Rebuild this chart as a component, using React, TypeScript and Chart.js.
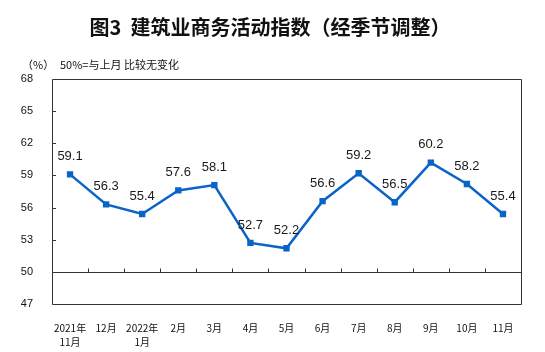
import React, { useEffect, useRef } from "react";
import { Chart, registerables } from "chart.js";

Chart.register(...registerables);

const TITLE = "图3  建筑业商务活动指数（经季节调整）";
const UNIT = "（%）";
const NOTE = "50%=与上月 比较无变化";

const categories: (string | string[])[] = [
  ["2021年", "11月"],
  "12月",
  ["2022年", "1月"],
  "2月",
  "3月",
  "4月",
  "5月",
  "6月",
  "7月",
  "8月",
  "9月",
  "10月",
  "11月",
];

const values: number[] = [59.1, 56.3, 55.4, 57.6, 58.1, 52.7, 52.2, 56.6, 59.2, 56.5, 60.2, 58.2, 55.4];

const Y_MIN = 47;
const Y_MAX = 68;
const Y_STEP = 3;
const BASELINE = 50;

const LINE_COLOR = "#0a64c8";
const AXIS_COLOR = "#333333";

const framePlugin = {
  id: "frame",
  beforeDatasetsDraw(chart: any) {
    const { ctx, chartArea, scales } = chart;
    const { left, right, top, bottom } = chartArea;
    const y = scales.y;
    const x = scales.x;
    ctx.save();
    ctx.strokeStyle = AXIS_COLOR;
    ctx.lineWidth = 1;
    // frame
    ctx.beginPath();
    ctx.rect(Math.round(left) + 0.5, Math.round(top) + 0.5, Math.round(right - left), Math.round(bottom - top));
    ctx.stroke();
    // y ticks inward
    for (let v = Y_MIN + Y_STEP; v < Y_MAX; v += Y_STEP) {
      const py = Math.round(y.getPixelForValue(v)) + 0.5;
      ctx.beginPath();
      ctx.moveTo(left, py);
      ctx.lineTo(left + 4, py);
      ctx.stroke();
    }
    // baseline at 50
    const by = Math.round(y.getPixelForValue(BASELINE)) + 0.5;
    ctx.beginPath();
    ctx.moveTo(left, by);
    ctx.lineTo(right, by);
    ctx.stroke();
    // category boundary ticks on baseline
    for (let i = 0; i < categories.length - 1; i++) {
      const px = Math.round((x.getPixelForValue(i) + x.getPixelForValue(i + 1)) / 2) + 0.5;
      ctx.beginPath();
      ctx.moveTo(px, by);
      ctx.lineTo(px, by - 4);
      ctx.stroke();
    }
    ctx.restore();
  },
  afterDatasetsDraw(chart: any) {
    const { ctx } = chart;
    const meta = chart.getDatasetMeta(0);
    ctx.save();
    ctx.fillStyle = "#1a1a1a";
    ctx.font = '13px "Liberation Sans", Arial, sans-serif';
    ctx.textAlign = "center";
    ctx.textBaseline = "middle";
    meta.data.forEach((pt: any, i: number) => {
      ctx.fillText(values[i].toFixed(1), pt.x, pt.y - 18);
    });
    ctx.restore();
  },
  afterDraw(chart: any) {
    const { ctx } = chart;
    ctx.save();
    ctx.fillStyle = "#111111";
    ctx.textBaseline = "middle";
    ctx.textAlign = "center";
    ctx.font = 'bold 20px "Noto Sans CJK SC", sans-serif';
    ctx.fillText(TITLE, 270, 27);
    ctx.textAlign = "left";
    ctx.font = '11px "Noto Sans CJK SC", sans-serif';
    ctx.fillText(UNIT, 22, 65);
    ctx.fillText(NOTE, 60, 65);
    ctx.restore();
  },
};

export default function App() {
  const ref = useRef<HTMLCanvasElement | null>(null);
  useEffect(() => {
    if (!ref.current) return;
    const chart = new Chart(ref.current, {
      type: "line",
      data: {
        labels: categories,
        datasets: [
          {
            data: values,
            borderColor: LINE_COLOR,
            backgroundColor: LINE_COLOR,
            borderWidth: 2.5,
            pointStyle: "rect",
            pointRadius: 4.5,
            pointBorderWidth: 0,
            tension: 0,
          },
        ],
      },
      options: {
        responsive: false,
        animation: false,
        layout: { padding: { top: 79, right: 24, left: 0, bottom: 0 } },
        plugins: { legend: { display: false }, tooltip: { enabled: false }, title: { display: false } },
        scales: {
          x: {
            type: "category",
            offset: true,
            grid: { display: false },
            border: { display: false },
            ticks: {
              color: "#111111",
              font: { family: '"Noto Sans CJK SC", sans-serif', size: 10, lineHeight: 1.4 },
              padding: 9,
              maxRotation: 0,
              autoSkip: false,
            },
            afterFit: (s: any) => {
              s.height = 48;
            },
          },
          y: {
            min: Y_MIN,
            max: Y_MAX,
            grid: { display: false },
            border: { display: false },
            ticks: {
              stepSize: Y_STEP,
              color: "#111111",
              font: { family: '"Liberation Sans", Arial, sans-serif', size: 11 },
              padding: 11,
            },
            afterFit: (s: any) => {
              s.width = 52;
            },
          },
        },
      },
      plugins: [framePlugin],
    });
    return () => chart.destroy();
  }, []);
  return (
    <div style={{ position: "fixed", left: 0, top: 0, width: 545, height: 352, background: "#fff" }}>
      <canvas ref={ref} width={545} height={352} />
    </div>
  );
}
